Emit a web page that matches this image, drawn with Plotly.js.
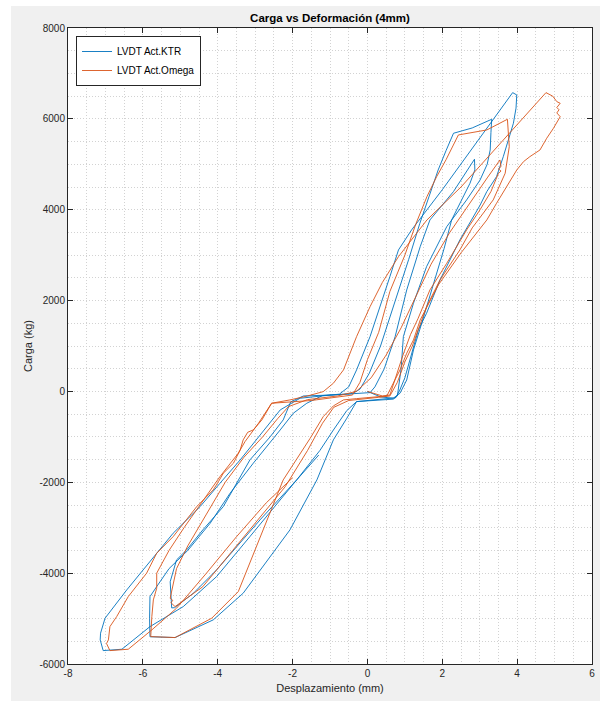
<!DOCTYPE html>
<html>
<head>
<meta charset="utf-8">
<script src="https://cdn.plot.ly/plotly-3.0.1.min.js"></script>
<style>
html,body{margin:0;padding:0;background:#ffffff;}
#chart{position:absolute;left:11px;top:6px;width:589px;height:695px;}
</style>
</head>
<body>
<div id="chart"></div>
<script>
// ---- Data ----
const chartTitle = "Carga vs Deformación (4mm)";
const xTitle = "Desplazamiento (mm)";
const yTitle = "Carga (kg)";
const seriesNames = ["LVDT Act.KTR", "LVDT Act.Omega"];

const xTickVals = [-8, -6, -4, -2, 0, 2, 4, 6];
const xTickText = ["-8", "-6", "-4", "-2", "0", "2", "4", "6"];
const yTickVals = [-6000, -4000, -2000, 0, 2000, 4000, 6000, 8000];
const yTickText = ["-6000", "-4000", "-2000", "0", "2000", "4000", "6000", "8000"];

// LVDT Act.KTR
const ktrX = [0.00,0.35,0.69,0.87,1.05,1.23,1.45,1.75,2.05,2.25,2.52,2.74,2.87,2.86,
  2.30,1.67,1.41,1.05,0.74,0.45,0.20,0.07,-0.91,-1.71,-2.05,-2.25,-2.60,-3.14,-3.85,-4.40,-4.83,-5.10,-5.27,-5.25,-5.23,
  -5.15,-4.65,-4.03,-3.40,-2.87,-1.89,-1.27,-0.91,-0.55,-0.29,0.20,0.69,0.80,0.90,0.96,1.23,1.58,2.12,2.65,3.01,3.20,3.28,3.30,3.32,
  2.80,2.30,2.10,1.89,1.65,1.40,1.10,0.75,0.35,0.05,-0.20,-0.40,-1.20,-1.62,-1.98,-2.33,-2.69,-3.05,-3.67,-4.20,-4.80,-5.30,-5.63,-5.81,-5.82,-5.81,
  -5.14,-4.12,-3.32,-2.07,-1.35,-0.91,-0.55,-0.29,0.75,0.85,1.00,1.20,1.36,1.58,1.94,2.47,3.01,3.19,3.45,3.63,3.76,3.90,3.97,3.99,3.88,
  3.00,2.00,1.18,0.83,0.60,0.34,0.07,-0.29,-0.50,-0.75,-1.80,-2.33,-2.51,-2.78,-3.05,-3.40,-3.94,-4.47,-5.19,-5.63,-6.43,-7.01,-7.13,-7.14,-7.06,
  -6.56,-5.81,-4.92,-4.03,-3.14,-1.89,-1.30];
const ktrY = [0,-120,-150,-40,253,913,1500,2300,3150,3775,4215,4582,4875,5111,
  4400,3775,3187,2234,1206,500,100,-26,-77,-100,-230,-627,-1000,-1508,-2535,-3050,-3489,-3709,-4190,-4500,-4765,
  -4760,-4442,-3929,-3341,-2828,-1948,-1300,-850,-420,-224,-190,-170,-100,500,1206,1941,2747,3628,4215,4655,5000,5315,5700,5991,
  5800,5683,5300,4875,4300,3700,2900,2000,1000,400,50,-50,-90,-260,-480,-847,-1215,-1580,-2241,-2900,-3500,-3900,-4296,-4516,-5000,-5400,
  -5418,-5029,-4442,-3048,-1948,-1067,-590,-224,-140,0,300,900,1353,1721,2455,3335,4100,4400,4728,5168,5535,5903,6236,6526,6577,
  5580,4440,3555,3115,2527,1866,1206,473,100,-60,-150,-407,-590,-884,-1140,-1508,-2021,-2535,-3121,-3561,-4369,-4992,-5322,-5469,-5705,
  -5675,-5177,-4736,-4076,-3196,-1948,-1400];

// LVDT Act.Omega
const omegaX = [0.00,0.40,0.60,0.75,0.95,1.15,1.35,1.67,2.12,2.65,3.01,3.30,3.50,3.57,3.50,3.57,3.54,
  3.20,2.70,2.20,1.70,1.30,0.90,0.50,0.10,-0.30,-0.80,-1.60,-2.11,-2.40,-2.80,-3.30,-3.80,-4.30,-4.80,-5.10,-5.27,-5.20,-5.25,-5.14,
  -4.40,-3.60,-2.90,-2.20,-1.60,-1.20,-0.90,-0.50,0.30,0.60,0.80,1.00,1.20,1.58,1.94,2.47,2.80,3.36,3.68,3.79,3.74,
  3.19,2.43,2.10,1.85,1.59,1.30,1.00,0.60,0.30,0.00,-0.20,-0.40,-1.50,-2.56,-2.91,-3.27,-3.45,-3.94,-4.38,-4.90,-5.30,-5.63,-5.63,-5.72,-5.76,-5.79,
  -5.14,-4.16,-3.45,-2.42,-2.25,-1.53,-1.18,-0.91,-0.64,-0.29,0.52,0.69,0.87,1.05,1.23,1.41,1.90,2.50,3.19,3.45,3.72,3.99,4.17,4.34,4.61,4.79,4.97,5.15,5.06,5.12,5.06,5.15,5.06,4.95,4.77,
  3.50,2.50,1.59,0.83,0.40,0.07,-0.29,-0.64,-0.91,-1.18,-1.60,-2.07,-2.56,-2.70,-2.82,-3.05,-3.20,-3.32,-3.40,-3.58,-3.85,-3.98,-4.12,-4.56,-4.92,-5.19,-5.63,-5.90,-6.39,-6.70,-6.88,-6.92,-6.97,-6.88,
  -6.39,-5.76,-5.10,-4.30,-3.50,-2.70,-2.00];
const omegaY = [0,-100,-80,300,800,1250,1600,2234,2821,3555,4000,4400,4800,4850,4900,4950,5095,
  4700,4100,3500,2800,2100,1400,800,300,0,-100,-180,-334,-600,-1000,-1450,-2000,-2700,-3400,-3900,-4552,-4600,-4650,-4736,
  -4300,-3500,-2800,-2100,-1300,-700,-350,-200,-130,-100,200,650,1000,1866,2455,3115,3600,4215,4802,5388,5991,
  5756,5646,5100,4728,4288,3700,3000,2200,1300,700,200,-80,-200,-260,-700,-1104,-1360,-1875,-2388,-3000,-3500,-4000,-4332,-4589,-4957,-5397,
  -5418,-4992,-4406,-2278,-1948,-1031,-554,-319,-187,-158,-99,180,473,841,1134,1574,2350,3050,3775,4142,4508,4875,5058,5168,5315,5573,5793,6048,6130,6200,6250,6343,6379,6500,6577,
  5420,4500,3775,2967,2400,1866,1206,473,180,-4,-100,-187,-260,-450,-627,-847,-900,-1067,-1288,-1580,-1800,-1985,-2168,-2535,-2901,-3196,-3561,-4001,-4516,-4957,-5177,-5469,-5550,-5705,
  -5675,-5249,-4772,-4000,-3200,-2450,-1900];

// ---- Chart ----
const fontFam = "'Liberation Sans', Arial, Helvetica, sans-serif";
const axisColor = "#262626";
const gridColor = "#d2d2d2";
const gridDash = "1px,2px";

const traces = [
  {x: ktrX, y: ktrY, name: seriesNames[0], type: "scatter", mode: "lines",
   line: {color: "#0072BD", width: 0.9}},
  {x: omegaX, y: omegaY, name: seriesNames[1], type: "scatter", mode: "lines",
   line: {color: "#D95319", width: 0.9}}
];

const axisCommon = {
  showline: true, linecolor: axisColor, linewidth: 1, mirror: "ticks",
  ticks: "inside", ticklen: 5, tickcolor: axisColor, tickwidth: 1,
  showgrid: true, gridcolor: gridColor, griddash: gridDash, gridwidth: 1,
  zeroline: false,
  tickfont: {family: fontFam, size: 10, color: axisColor}
};

const layout = {
  width: 589, height: 695,
  paper_bgcolor: "#f0f0f0", plot_bgcolor: "#ffffff",
  margin: {l: 57, r: 8, t: 22, b: 37},
  title: {text: "<b>" + chartTitle + "</b>", font: {family: fontFam, size: 11.5, color: "#000000"},
          x: 0.5, xref: "paper", xanchor: "center", y: 0.983, yref: "container", yanchor: "middle"},
  xaxis: Object.assign({}, axisCommon, {
    range: [-8, 6], tickmode: "array", tickvals: xTickVals, ticktext: xTickText,
    minor: {dtick: 0.5, showgrid: true, gridcolor: gridColor, griddash: gridDash, gridwidth: 1, ticks: ""},
    title: {text: xTitle, font: {family: fontFam, size: 11, color: axisColor}, standoff: 6}
  }),
  yaxis: Object.assign({}, axisCommon, {
    range: [-6000, 8000], tickmode: "array", tickvals: yTickVals, ticktext: yTickText,
    minor: {dtick: 500, showgrid: true, gridcolor: gridColor, griddash: gridDash, gridwidth: 1, ticks: ""},
    title: {text: yTitle, font: {family: fontFam, size: 11, color: axisColor}, standoff: 4}
  }),
  showlegend: true,
  legend: {x: 0.0153, y: 0.9874, xanchor: "left", yanchor: "top",
           bgcolor: "#ffffff", bordercolor: axisColor, borderwidth: 1,
           font: {family: fontFam, size: 10, color: "#000000"}, tracegroupgap: 0}
};

Plotly.newPlot("chart", traces, layout, {displayModeBar: false, staticPlot: true});
</script>
</body>
</html>
